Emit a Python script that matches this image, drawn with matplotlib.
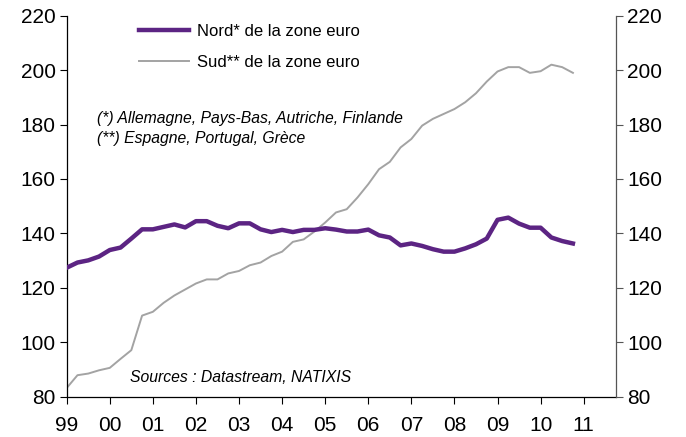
import matplotlib
matplotlib.use("Agg")
import matplotlib.pyplot as plt
from matplotlib import font_manager
import numpy as np

plt.rcParams['font.family'] = ['Liberation Sans', 'DejaVu Sans']

# Quarterly data 1999Q1 - 2010Q4 (48 quarters)
start_year = 1999
nord = [127.4, 129.3, 130.1, 131.5, 133.9, 134.8, 138.1, 141.5, 141.5, 142.4,
        143.3, 142.2, 144.5, 144.5, 142.8, 141.9, 143.7, 143.7, 141.5, 140.5,
        141.3, 140.5, 141.3, 141.3, 141.9, 141.4, 140.7, 140.7, 141.4, 139.3,
        138.5, 135.6, 136.3, 135.4, 134.2, 133.3, 133.3, 134.5, 136.0, 138.1,
        145.0, 145.8, 143.6, 142.1, 142.1, 138.5, 137.2, 136.3]
sud = [83.2, 87.9, 88.5, 89.7, 90.6, 93.9, 97.1, 109.8, 111.2, 114.5,
       117.2, 119.4, 121.6, 123.1, 123.1, 125.3, 126.2, 128.3, 129.3, 131.7,
       133.3, 136.9, 137.8, 140.7, 144.0, 147.7, 148.9, 153.2, 158.1, 163.6,
       166.3, 171.6, 174.7, 179.6, 182.1, 183.9, 185.7, 188.2, 191.5, 195.8,
       199.5, 201.1, 201.1, 199.0, 199.6, 202.0, 201.1, 199.0]
year_ticks = list(range(1999, 2012))
year_labels = ['99', '00', '01', '02', '03', '04', '05', '06', '07', '08', '09', '10', '11']
y_ticks = [80, 100, 120, 140, 160, 180, 200, 220]

label_nord = "Nord* de la zone euro"
label_sud = "Sud** de la zone euro"
note1 = "(*) Allemagne, Pays-Bas, Autriche, Finlande"
note2 = "(**) Espagne, Portugal, Grèce"
source = "Sources : Datastream, NATIXIS"

x = start_year + np.arange(len(nord)) * 0.25

available = {f.name for f in font_manager.fontManager.ttflist}
narrow = 'Liberation Sans Narrow' if 'Liberation Sans Narrow' in available else 'Liberation Sans'
xfs = 16 if narrow == 'Liberation Sans Narrow' else 15

fig = plt.figure(figsize=(6.86, 4.37), dpi=100)
W, H = 686, 437
left, right, top, bottom = 66.7, 616.0, 15.7, 396.7
ax = fig.add_axes([left / W, 1 - bottom / H, (right - left) / W, (bottom - top) / H])

purple = '#5C2483'
grey = '#A3A3A3'
ax.plot(x, nord, color=purple, lw=3.2, solid_joinstyle='round', label=label_nord, zorder=3)
ax.plot(x, sud, color=grey, lw=1.4, label=label_sud, zorder=2)

ax.set_xlim(1999, 2011.75)
ax.set_ylim(80, 220)
ax.set_xticks(year_ticks)
ax.set_xticklabels(year_labels, fontsize=xfs, family=[narrow, 'DejaVu Sans'])
ax.set_yticks(y_ticks)
ax.tick_params(axis='y', labelsize=15, direction='out', length=5, width=0.8, pad=3)
ax.tick_params(axis='x', direction='out', length=5, width=0.8, pad=9)
ax.spines['top'].set_visible(False)
ax.spines['right'].set_visible(False)
for s in ('left', 'bottom'):
    ax.spines[s].set_linewidth(0.9)

ax2 = ax.twinx()
ax2.set_ylim(80, 220)
ax2.set_yticks(y_ticks)
ax2.tick_params(axis='y', labelsize=15, direction='out', length=5, width=0.8, pad=3,
                color='#555555')
for s in ('top', 'left', 'bottom'):
    ax2.spines[s].set_visible(False)
ax2.spines['right'].set_color('#555555')
ax2.spines['right'].set_linewidth(0.9)

leg = ax.legend(loc='upper left', bbox_to_anchor=(64 / (right - left), 1.0),
                frameon=False, fontsize=12, handlelength=3.0, handletextpad=0.45,
                labelspacing=0.95, borderaxespad=0.1)

def px(xp, yp):
    return ((xp - left) / (right - left), (bottom - yp) / (bottom - top))

ax.text(*px(97, 119), note1, transform=ax.transAxes, fontsize=11.3, style='italic',
        va='center', ha='left')
ax.text(*px(97, 139), note2, transform=ax.transAxes, fontsize=11.3, style='italic',
        va='center', ha='left')
ax.text(*px(130, 378), source, transform=ax.transAxes, fontsize=11.3, style='italic',
        va='center', ha='left')

fig.savefig('out.png', dpi=100)
